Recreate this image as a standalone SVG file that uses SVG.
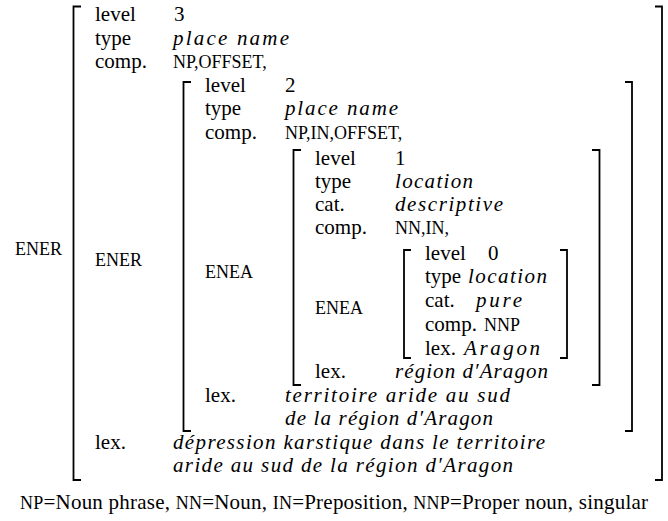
<svg xmlns="http://www.w3.org/2000/svg" width="668" height="521" viewBox="0 0 668 521" font-family="'Liberation Serif', 'Times New Roman', serif">
<style>
text{font-family:"Liberation Serif","Times New Roman",serif;font-size:21px;fill:#000}
.sc{font-size:18px}
.it{font-style:italic}
.br{fill:none;stroke:#000;stroke-width:1.8}
</style>
<rect width="668" height="521" fill="#fff"/>
<g id="ener3">
<path class="br" d="M81,6.5H73.5V480H81"/>
<path class="br" d="M655,6.5H662V480H655"/>
<text class="sc" x="15" y="255">ENER</text>
<text x="95" y="21">level</text><text x="174" y="21">3</text>
<text x="95" y="45">type</text><text class="it" x="173" y="45" textLength="116">place name</text>
<text x="95" y="68">comp.</text><text class="sc" x="173" y="68">NP,OFFSET,</text>
<text x="95" y="449">lex.</text><text class="it" x="173" y="449" textLength="372">dépression karstique dans le territoire</text>
<text class="it" x="173" y="472" textLength="340">aride au sud de la région d′Aragon</text>
</g>
<g id="ener2">
<path class="br" d="M191,82H183.5V431H191"/>
<path class="br" d="M625,82H632V431H625"/>
<text class="sc" x="95" y="266">ENER</text>
<text x="205" y="92">level</text><text x="285" y="92">2</text>
<text x="205" y="115">type</text><text class="it" x="285" y="115" textLength="113">place name</text>
<text x="205" y="139">comp.</text><text class="sc" x="285" y="139">NP,IN,OFFSET,</text>
<text x="205" y="402">lex.</text><text class="it" x="285" y="402" textLength="225">territoire aride au sud</text>
<text class="it" x="285" y="425" textLength="208">de la région d′Aragon</text>
</g>
<g id="enea1">
<path class="br" d="M301,150H293.5V385H301"/>
<path class="br" d="M592,150H599.5V385H592"/>
<text class="sc" x="205" y="278">ENEA</text>
<text x="315" y="165">level</text><text x="395" y="165">1</text>
<text x="315" y="188">type</text><text class="it" x="395" y="188" textLength="78">location</text>
<text x="315" y="211">cat.</text><text class="it" x="395" y="211" textLength="108">descriptive</text>
<text x="315" y="234">comp.</text><text class="sc" x="395" y="234">NN,IN,</text>
<text x="315" y="378">lex.</text><text class="it" x="395" y="378" textLength="153">région d′Aragon</text>
</g>
<g id="enea0">
<path class="br" d="M411,250H404V358H411"/>
<path class="br" d="M560,250H567V358H560"/>
<text class="sc" x="315" y="314">ENEA</text>
<text x="425" y="260">level</text><text x="488" y="260">0</text>
<text x="425" y="283">type</text><text class="it" x="468" y="283" textLength="79">location</text>
<text x="425" y="307">cat.</text><text class="it" x="476" y="307" textLength="46">pure</text>
<text x="425" y="331">comp.</text><text class="sc" x="484" y="331">NNP</text>
<text x="425" y="355">lex.</text><text class="it" x="464" y="355" textLength="76">Aragon</text>
</g>
<g id="legend">
<text x="20" y="509" textLength="628"><tspan class="sc">NP</tspan>=Noun phrase, <tspan class="sc">NN</tspan>=Noun, <tspan class="sc">IN</tspan>=Preposition, <tspan class="sc">NNP</tspan>=Proper noun, singular</text>
</g>
</svg>
